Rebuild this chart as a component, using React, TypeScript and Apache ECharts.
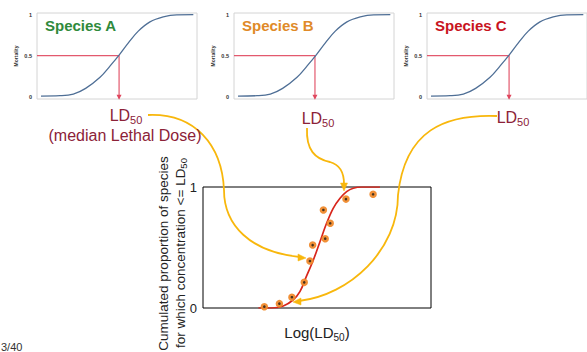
import React, { useEffect, useRef } from "react";
import * as echarts from "echarts";

// ---- data ----
const speciesNames = ["Species A", "Species B", "Species C"];
// top panels: mortality curve (dose on 0..10 scale)
const topDose = [0.25, 1.44, 2.27, 3.04, 3.94, 4.56, 5.13, 5.71, 6.33, 7.06, 7.89, 8.73, 9.77];
const topMortality = [0.006, 0.01, 0.03, 0.1, 0.235, 0.372, 0.506, 0.656, 0.799, 0.912, 0.973, 0.998, 1.0];
const topLd50 = [5.13, 5.06, 5.13];
const medianMortality = 0.5;
const topTicks = [0, 0.5, 1];

// bottom panel: species sensitivity distribution
const ssdX = [2.43, 3.02, 3.52, 3.95, 4.25, 4.53, 4.84, 5.13, 5.42, 5.71, 6.01, 6.3, 6.59, 6.96, 7.76];
const ssdY = [0, 0, 0.017, 0.066, 0.135, 0.259, 0.397, 0.548, 0.7, 0.824, 0.907, 0.962, 0.99, 1, 1];
const speciesLogLd50 = [2.69, 3.35, 3.9, 4.44, 4.69, 4.81, 5.28, 5.36, 5.58, 6.27, 7.46];
const cumulatedProportion = [0.011, 0.036, 0.089, 0.212, 0.388, 0.52, 0.81, 0.573, 0.7, 0.9, 0.94];
const bottomTicks = [0, 1];

const FONT = "Liberation Sans, Arial, sans-serif";
const YELLOW = "#f8b70c";
const MAROON = "#8c2238";
const PINK_RED = "#e0475e";

const arrowPaths = [
  "M148,115 C195,113 222,145 224,190 C224,225 250,252 300,257",
  "M307,128 C306,150 315,159 330,162 C341,165 344,174 344,184",
  "M497,116 C445,114 405,130 398,195 C398,250 350,295 299,301",
];
const arrowHeads = [
  [[306, 258], [298, 254], [298, 261]],
  [[344, 191], [340.5, 183], [347.5, 183]],
  [[293, 302], [301, 298], [301, 305]],
];

arrowPaths.forEach((d, i) => {
  echarts.graphic.registerShape("yarrow" + i, echarts.graphic.extendPath(d, {}) as any);
});

export default function App() {
  const ref = useRef<HTMLDivElement>(null);
  useEffect(() => {
    document.body.style.margin = "0";
    const chart = echarts.init(ref.current!, null, { renderer: "svg" });
    const lefts = [37, 234, 427];
    const titleColors = ["#2f8a3c", "#e08a28", "#c8141e"];

    const grids: any[] = [];
    const xAxes: any[] = [];
    const yAxes: any[] = [];
    const series: any[] = [];
    const titles: any[] = [];

    lefts.forEach((l, i) => {
      grids.push({ left: l, top: 13, width: 160, height: 86, show: true, borderColor: "#d4d4d4", borderWidth: 1, backgroundColor: "#fff" });
      xAxes.push({ gridIndex: i, type: "value", min: 0, max: 10, show: false });
      yAxes.push({
        gridIndex: i, type: "value", min: -0.03, max: 1.02,
        axisLine: { show: false }, axisTick: { show: false }, splitLine: { show: false },
        axisLabel: { customValues: topTicks, fontSize: 5.5, fontWeight: "bold", color: "#333", margin: 5, fontFamily: FONT },
        name: "Mortality", nameLocation: "middle", nameRotate: 90, nameGap: 19,
        nameTextStyle: { fontSize: 5, fontWeight: "bold", color: "#333", fontFamily: FONT },
      });
      // red guide lines (0.5 mortality -> LD50)
      series.push({
        type: "line", xAxisIndex: i, yAxisIndex: i,
        data: [[0, medianMortality], [topLd50[i], medianMortality], [topLd50[i], -0.02]],
        symbol: "none", lineStyle: { color: PINK_RED, width: 1.2, opacity: 0.9 }, itemStyle: { color: PINK_RED }, z: 2,
        markPoint: {
          silent: true, animation: false,
          data: [{ coord: [topLd50[i], -0.01], symbol: "triangle", symbolSize: [5, 5], symbolRotate: 180, itemStyle: { color: PINK_RED } }],
          label: { show: false },
        },
      });
      series.push({
        type: "line", xAxisIndex: i, yAxisIndex: i,
        data: topDose.map((x, k) => [x, topMortality[k]]),
        smooth: 0.4, symbol: "none", lineStyle: { color: "#4f6f96", width: 1.3 }, z: 3,
      });
      titles.push({
        text: speciesNames[i], left: l + 8, top: 18, padding: 0,
        textStyle: { fontSize: 15, fontWeight: "bold", color: titleColors[i], fontFamily: FONT },
      });
    });

    // bottom chart
    grids.push({ left: 203, top: 187, width: 228, height: 121, show: true, borderColor: "#000", borderWidth: 1 });
    xAxes.push({
      gridIndex: 3, type: "value", min: 0, max: 10,
      axisLine: { show: false }, axisTick: { show: false }, splitLine: { show: false }, axisLabel: { show: false },
      name: "{a|Log(LD}{s|50}{a|)}", nameLocation: "middle", nameGap: 14,
      nameTextStyle: {
        color: "#222", fontFamily: FONT,
        rich: {
          a: { fontSize: 15, lineHeight: 20, color: "#222", fontFamily: FONT },
          s: { fontSize: 10, lineHeight: 10, verticalAlign: "bottom", color: "#222", fontFamily: FONT },
        },
      },
    });
    yAxes.push({
      gridIndex: 3, type: "value", min: 0, max: 1,
      axisLine: { show: false }, axisTick: { show: false }, splitLine: { show: false },
      axisLabel: { customValues: bottomTicks, fontSize: 13, color: "#222", margin: 6, fontFamily: FONT },
    });
    series.push({
      type: "line", xAxisIndex: 3, yAxisIndex: 3,
      data: ssdX.map((x, k) => [x, ssdY[k]]),
      smooth: 0.35, symbol: "none", lineStyle: { color: "#d8261c", width: 1.7 }, z: 3,
    });
    series.push({
      type: "scatter", xAxisIndex: 3, yAxisIndex: 3,
      data: speciesLogLd50.map((x, k) => [x, cumulatedProportion[k]]),
      symbol: "circle", symbolSize: 7.5, itemStyle: { color: "#f08a2c", opacity: 0.95 }, z: 4,
    });
    series.push({
      type: "scatter", xAxisIndex: 3, yAxisIndex: 3,
      data: speciesLogLd50.map((x, k) => [x, cumulatedProportion[k]]),
      symbol: "circle", symbolSize: 2.6, itemStyle: { color: "#1a1a1a" }, z: 5,
    });

    const subRich = (big: number, small: number, color: string) => ({
      a: { fontSize: big, lineHeight: big + 4, color, fontFamily: FONT },
      s: { fontSize: small, lineHeight: small, verticalAlign: "bottom", color, fontFamily: FONT },
    });

    const textEl = (x: number, y: number, text: string, size: number, color: string, rich?: any, rotation = 0) => ({
      type: "text", x, y, rotation, z: 100,
      style: {
        text, fill: color, fontSize: size, fontFamily: FONT,
        align: "center", verticalAlign: "middle", textAlign: "center", textVerticalAlign: "middle",
        rich,
      },
    });

    const graphics: any[] = [];
    arrowPaths.forEach((_, i) => {
      graphics.push({
        type: "yarrow" + i, x: 0, y: 0, z: 100, silent: true,
        style: { stroke: YELLOW, fill: "none", lineWidth: 1.8 },
      });
      graphics.push({
        type: "polygon", z: 101, silent: true,
        shape: { points: arrowHeads[i] }, style: { fill: YELLOW, stroke: YELLOW, lineWidth: 0.5 },
      });
    });
    graphics.push(textEl(126, 115, "{a|LD}{s|50}", 16, MAROON, subRich(16, 11, MAROON)));
    graphics.push(textEl(125, 135, "(median Lethal Dose)", 16, MAROON));
    graphics.push(textEl(318, 118, "{a|LD}{s|50}", 16, MAROON, subRich(16, 11, MAROON)));
    graphics.push(textEl(513, 117, "{a|LD}{s|50}", 16, MAROON, subRich(16, 11, MAROON)));
    graphics.push(textEl(163.5, 253.5, "Cumulated proportion of species", 13.5, "#222", undefined, Math.PI / 2));
    graphics.push(textEl(180, 253, "{a|for which concentration <= LD}{s|50}", 13.5, "#222", subRich(13.5, 9.5, "#222"), Math.PI / 2));
    graphics.push({
      type: "text", x: 1, y: 341, z: 100,
      style: { text: "3/40", fill: "#333", fontSize: 11, fontFamily: FONT, align: "left", verticalAlign: "top", textAlign: "left", textVerticalAlign: "top" },
    });

    chart.setOption({
      animation: false,
      backgroundColor: "#fff",
      title: titles,
      grid: grids,
      xAxis: xAxes,
      yAxis: yAxes,
      series,
      graphic: { elements: graphics },
    });
    return () => chart.dispose();
  }, []);
  return <div ref={ref} style={{ width: 587, height: 352 }} />;
}
